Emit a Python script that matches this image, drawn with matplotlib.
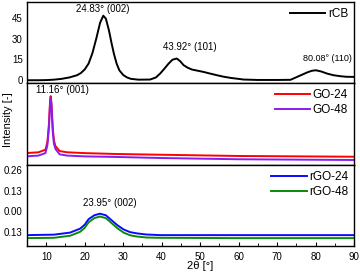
import matplotlib
matplotlib.use("Agg")
import matplotlib.pyplot as plt
from matplotlib.ticker import FixedLocator, FixedFormatter, MultipleLocator

plt.rcParams['font.family'] = ['Liberation Sans', 'DejaVu Sans']

# --- data ---
rcb_x = [5, 8, 10, 12, 14, 16, 18, 19, 20, 21, 22, 23, 24, 24.83, 25.5, 26.3, 27, 27.6, 28.3,
         29, 30, 31, 32, 34, 37, 38.5, 39.6, 40.7, 41.8, 42.8, 43.92, 44.8, 45.7, 46.8, 47.9, 49.5, 50.9, 52.6,
         54.4, 56, 57.9, 61.3, 65, 70, 73.5, 75.2, 76.5, 77.8, 79, 80.08, 81.5, 83, 84.7, 86.5, 88, 90]
rcb_y = [0, 0, 0.1, 0.4, 1.0, 2.0, 3.6, 5.2, 7.8, 12, 19.5, 30, 41.5, 46.6, 44.5, 36, 26.5, 19, 12,
         7.2, 3.8, 2.0, 1.0, 0.4, 0.5, 2, 4.8, 8.3, 12, 14.8, 15.7, 13.8, 10.9, 9.0, 7.7, 6.8, 6, 4.8,
         3.6, 2.6, 1.7, 0.5, 0.2, 0.2, 0.3, 2.4, 4.0, 5.6, 6.8, 7.2, 6.3, 4.8, 3.6, 2.9, 2.5, 2.4]

go_x = [5, 8, 9.8, 10.3, 10.7, 11.0, 11.16, 11.35, 11.7, 12.0, 12.4, 13.5, 15.4, 20, 28.4, 40, 60, 90]
go24_y = [14.6, 15.5, 18.7, 28, 50, 78, 84, 76, 45, 30, 23, 17, 15.5, 14.5, 13.4, 12.5, 11, 10.1]
go48_y = [10.6, 11.5, 14.6, 24, 45, 75, 82, 73, 40, 26, 19.5, 13, 11.5, 10.5, 9.8, 8.5, 7, 6.1]

rgo_x = [5, 12, 16.2, 18.8, 20, 21, 22.5, 23.95, 25.5, 27, 28.5, 30.1, 31.8, 33.6, 36, 39.6, 60, 90]
rgo24_y = [-0.151, -0.148, -0.135, -0.11, -0.085, -0.05, -0.025, -0.015, -0.025, -0.057, -0.088, -0.115,
           -0.132, -0.14, -0.147, -0.151, -0.151, -0.151]
rgo48_y = [-0.170, -0.168, -0.155, -0.13, -0.105, -0.07, -0.043, -0.033, -0.043, -0.075, -0.107, -0.135,
           -0.152, -0.16, -0.166, -0.168, -0.170, -0.170]

rgo_ticks = [0.26, 0.13, 0.00, -0.13]
rgo_tick_labels = ['0.26', '0.13', '0.00', '0.13']
rcb_ticks = [0, 15, 30, 45]

fig = plt.figure(figsize=(3.6, 2.72), dpi=100)
L, W = 27 / 360, (354 - 27) / 360
H = 272
ax1 = fig.add_axes([L, 1 - 83 / H, W, 81 / H])
ax2 = fig.add_axes([L, 1 - 165 / H, W, 82 / H])
ax3 = fig.add_axes([L, 1 - 246 / H, W, 81 / H])

fs_tick = 7
fs_ann = 7
fs_leg = 8.5

ax1.plot(rcb_x, rcb_y, color='black', lw=1.4, label='rCB')
ax1.set_ylim(-2, 56.5)
ax1.set_yticks(rcb_ticks)
ax1.text(24.8, 51.5, '24.83° (002)', ha='center', va='center', fontsize=fs_ann)
ax1.text(47.4, 24, '43.92° (101)', ha='center', va='center', fontsize=fs_ann)
ax1.text(83.1, 16, '80.08° (110)', ha='center', va='center', fontsize=fs_ann - 0.5)

ax2.plot(go_x, go24_y, color='red', lw=1.4, label='GO-24')
ax2.plot(go_x, go48_y, color='#8a1cf0', lw=1.4, label='GO-48')
ax2.set_ylim(0, 100)
ax2.set_yticks([])
ax2.text(14.1, 91.5, '11.16° (001)', ha='center', va='center', fontsize=fs_ann)

ax3.plot(rgo_x, rgo24_y, color='#0a0aff', lw=1.4, label='rGO-24')
ax3.plot(rgo_x, rgo48_y, color='#0a8a0a', lw=1.4, label='rGO-48')
ax3.set_ylim(-0.22, 0.294)
ax3.yaxis.set_major_locator(FixedLocator(rgo_ticks))
ax3.yaxis.set_major_formatter(FixedFormatter(rgo_tick_labels))
ax3.text(26.6, 0.051, '23.95° (002)', ha='center', va='center', fontsize=fs_ann)

for ax in (ax1, ax2, ax3):
    ax.set_xlim(5, 90)
    for s in ax.spines.values():
        s.set_linewidth(1.0)
    ax.tick_params(axis='y', length=0, labelsize=fs_tick, pad=3)
    ax.legend(loc='upper right', frameon=False, fontsize=fs_leg, handlelength=3.0,
              handletextpad=0.2, borderaxespad=0.1, labelspacing=0.3)

for ax in (ax1, ax2):
    ax.set_xticks([])

ax3.xaxis.set_major_locator(MultipleLocator(10))
ax3.xaxis.set_minor_locator(MultipleLocator(5))
ax3.set_xticks([10, 20, 30, 40, 50, 60, 70, 80, 90])
ax3.tick_params(axis='x', which='major', direction='in', length=3, labelsize=fs_tick, pad=4)
ax3.tick_params(axis='x', which='minor', direction='in', length=2)
ax3.set_xlabel('2θ [°]', fontsize=8)
ax3.xaxis.set_label_coords(0.53, -0.19)

fig.text(0.022, 0.56, 'Intensity [-]', rotation=90, ha='center', va='center', fontsize=8)

fig.savefig('out.png', dpi=100)
